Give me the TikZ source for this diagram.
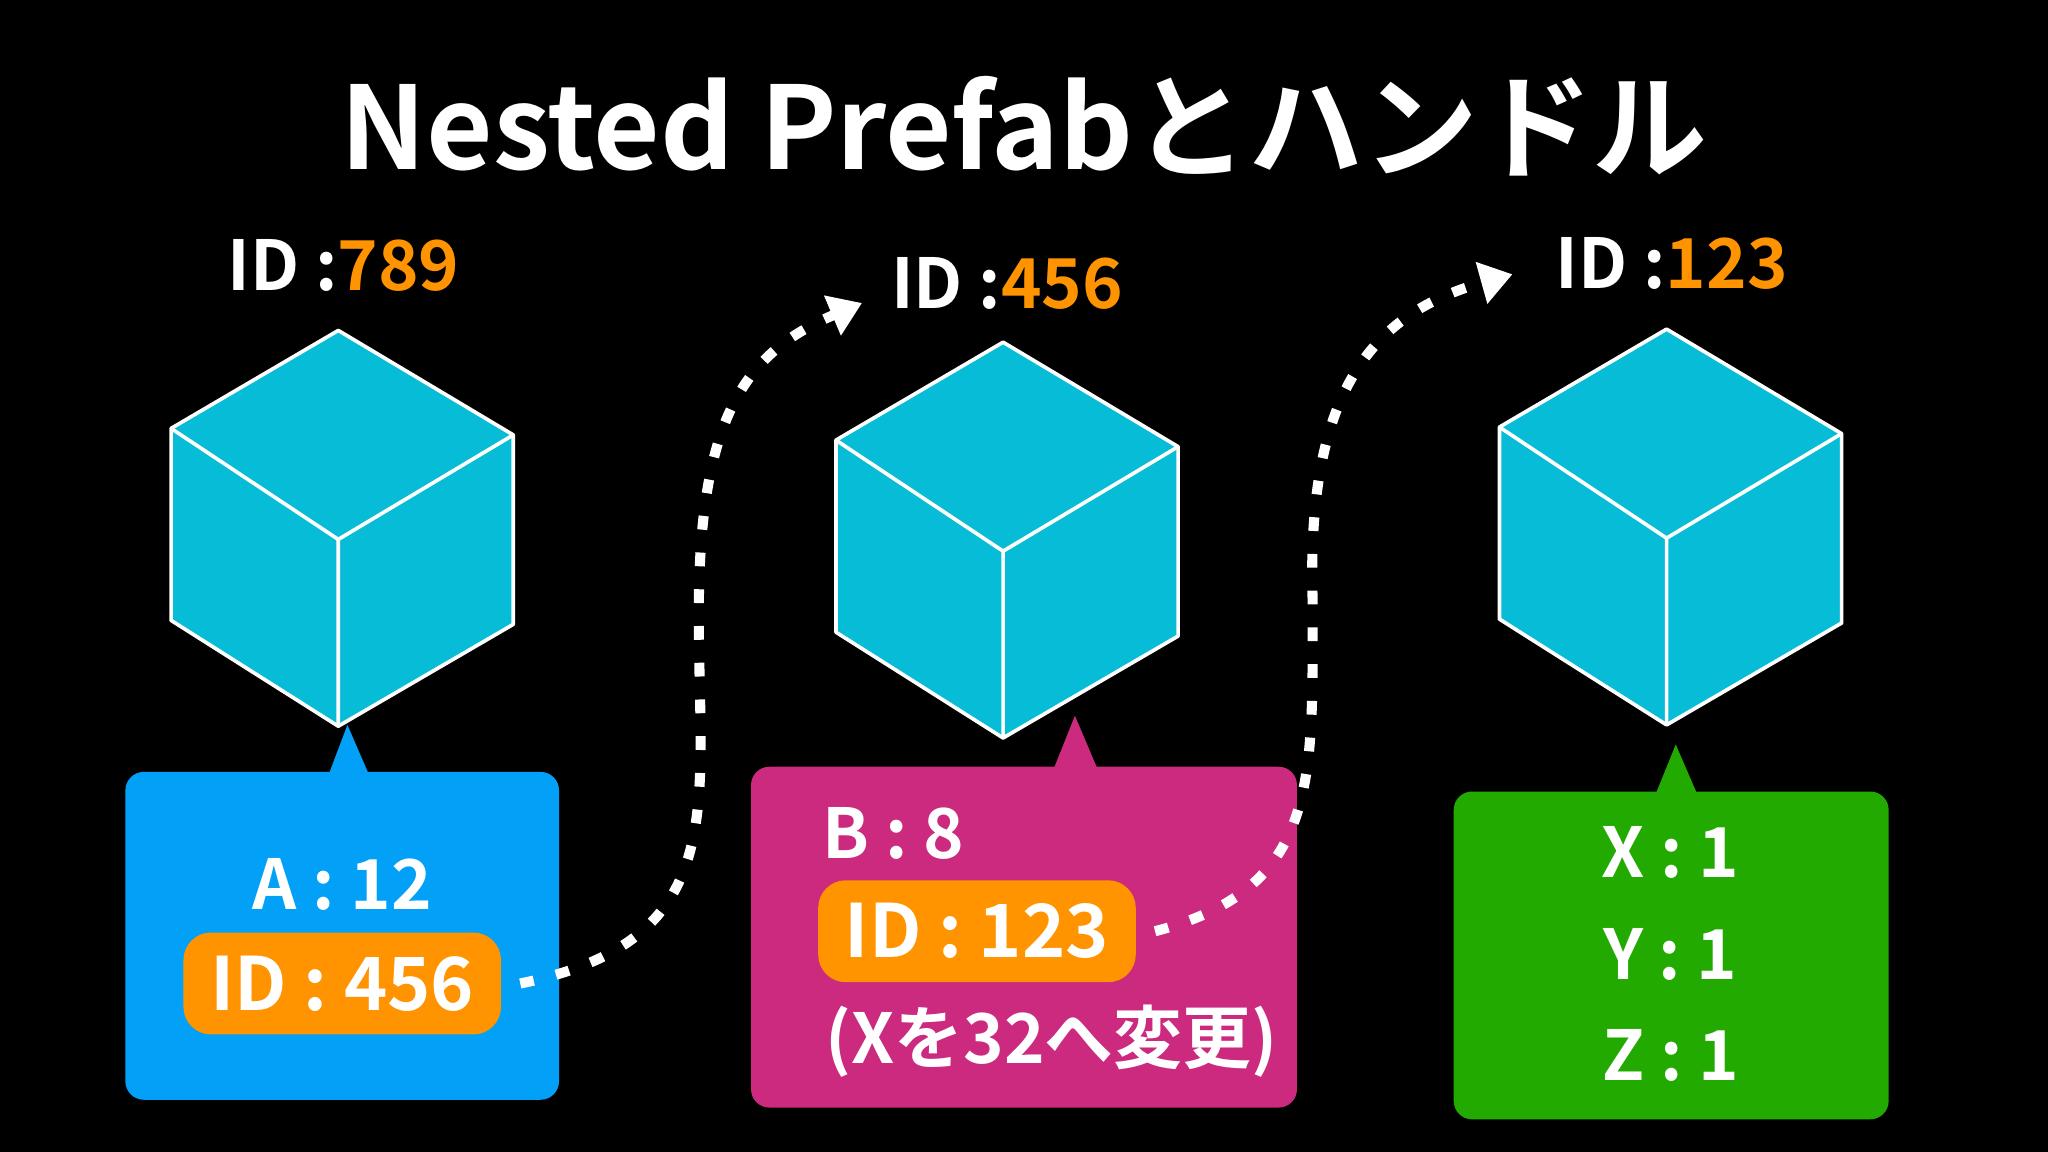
\documentclass[tikz,border=0pt]{standalone}
\usepackage{fontspec}
\setmainfont{Noto Sans CJK JP}[BoldFont={* Bold},UprightFont={* Bold}]
\usetikzlibrary{arrows.meta}
\definecolor{cyanc}{HTML}{06BCD6}
\definecolor{blueb}{HTML}{03A0F8}
\definecolor{magb}{HTML}{CB2A7E}
\definecolor{greenb}{HTML}{22AA00}
\definecolor{orng}{HTML}{FF9300}
\tikzset{
 cubeface/.style={fill=cyanc,draw=white,line width=0.8pt,line join=round},
 obox/.style={fill=orng,rounded corners=6pt,text=white,font=\fontsize{16}{20}\selectfont,inner sep=0pt,minimum width=2.43cm,minimum height=0.78cm},
 wtxt/.style={text=white,font=\fontsize{15}{19}\selectfont},
 idl/.style={text=white,font=\fontsize{15}{19}\selectfont},
 dotarrow/.style={white,line width=2.2pt,dash pattern=on 3pt off 5pt,-{Triangle[length=7pt,width=9pt]}}
}
\newcommand{\mycube}[3]{% x offset, y offset, name
 \begin{scope}[shift={(#1,#2)}]
 \draw[cubeface] (0,0) -- (-128,75) -- (-128,222) -- (0,303) -- (134,225) -- (134,80) -- cycle;
 \draw[white,line width=0.8pt] (-128,75) -- (0,160) -- (134,80) (0,160) -- (0,303);
 \coordinate (#3) at (0,0);
 \end{scope}}
\begin{document}
\begin{tikzpicture}[x=0.01cm,y=-0.01cm]
\fill[black] (0,0) rectangle (1568,882);
\node[text=white,font=\fontsize{25}{30}\selectfont] (title) at (784,97) {Nested Prefabとハンドル};
\mycube{259}{253}{c1}
\mycube{768}{262}{c2}
\mycube{1276}{252}{c3}
\node[idl] (l1) at (263,203) {ID :\textcolor{orng}{789}};
\node[idl] (l2) at (771,217) {ID :\textcolor{orng}{456}};
\node[idl] (l3) at (1280,202) {ID :\textcolor{orng}{123}};
% boxes
\fill[blueb,rounded corners=4pt] (96,591) rectangle (428,842);
\fill[blueb] (252,592) -- (266,555) -- (282,592) -- cycle;
\fill[magb,rounded corners=4pt] (575,587) rectangle (993,848);
\fill[magb] (807,588) -- (823,548) -- (840,588) -- cycle;
\fill[greenb,rounded corners=4pt] (1113,606) rectangle (1446,857);
\fill[greenb] (1268,607) -- (1283,570) -- (1299,607) -- cycle;
\node[wtxt] (a) at (262,677) {A : 12};
\node[obox] (o1) at (262,753) {ID : 456};
\node[wtxt] (b) at (684,638) {B : 8};
\node[obox] (o2) at (748,713) {ID : 123};
\node[wtxt] (ch) at (805,797) {(Xを32へ変更)};
\node[wtxt] (x) at (1279,653) {X : 1};
\node[wtxt] (y) at (1279,731) {Y : 1};
\node[wtxt] (z) at (1279,808) {Z : 1};
\coordinate (t1) at (660,232);
\coordinate (t2) at (1158,210);
\draw[dotarrow] ([xshift=4pt]o1.east) .. controls (560,720) and (535,620) .. (535,470) .. controls (535,320) and (570,270) .. (t1);
\draw[dotarrow] ([xshift=4pt]o2.east) .. controls (1010,680) and (1005,600) .. (1005,460) .. controls (1000,300) and (1050,240) .. (t2);
\end{tikzpicture}
\end{document}
